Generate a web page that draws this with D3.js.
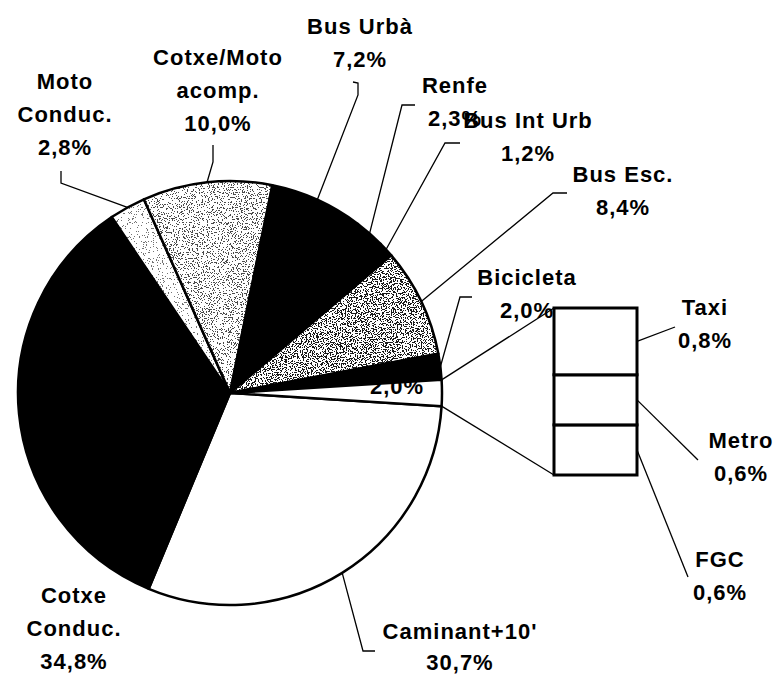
<!DOCTYPE html>
<html>
<head>
<meta charset="utf-8">
<script src="https://cdn.jsdelivr.net/npm/d3@7"></script>
<style>
  html, body { margin: 0; padding: 0; background: #fff; }
  svg { display: block; }
  text { font-family: "Liberation Sans", Arial, sans-serif; font-weight: bold; font-size: 22px; letter-spacing: 1px; fill: #000; }
</style>
</head>
<body>
<script>
// ---------- DATA ----------
const pieCategories = ["Caminant+10'", "Cotxe Conduc.", "Moto Conduc.", "Cotxe/Moto acomp.", "Bus Urbà", "Renfe", "Bus Int Urb", "Bus Esc.", "Bicicleta", "Altres"];
const pieValues = [30.7, 34.8, 2.8, 10.0, 7.2, 2.3, 1.2, 8.4, 2.0];   // "Altres" = sum of the bar
const barCategories = ["FGC", "Metro", "Taxi"];                        // bottom to top
const barValues = [0.6, 0.6, 0.8];

const pieLabelLines = [["Caminant+10'"], ["Cotxe", "Conduc."], ["Moto", "Conduc."], ["Cotxe/Moto", "acomp."],
                       ["Bus Urbà"], ["Renfe"], ["Bus Int Urb"], ["Bus Esc."], ["Bicicleta"], []];
const barLabelLines = [["FGC"], ["Metro"], ["Taxi"]];

// ---------- LAYOUT / STYLE ----------
const W = 779, H = 677;
const cx = 230, cy = 393, R = 212;
const barX = 554, barW = 83, barTop = 308, barBottom = 475;
const lineGap = 33;
const pieFills = ["#fff", "#000", "url(#stLight)", "url(#stMed)", "#000", "#000", "#000", "url(#stDark)", "#000", "#fff"];
// label anchor (center x, first baseline) and leader path points (from slice edge outward)
const pieLabelLayout = [
  {x: 460, y: 639, gap: 31, leader: [[363, 651], [375, 651]]},
  {x: 74,  y: 603, leader: null},
  {x: 65,  y: 89,  leader: [[61, 183], [61, 171]]},
  {x: 218, y: 65,  leader: [[213, 162], [213, 145]]},
  {x: 360, y: 34,  leader: [[358, 95], [358, 83], [353, 82]]},
  {x: 455, y: 93,  leader: [[402, 105], [415, 105]]},
  {x: 528, y: 128, leader: [[445, 143], [460, 143]]},
  {x: 623, y: 182, leader: [[553, 193], [567, 193]]},
  {x: 527, y: 285, leader: [[460, 297], [472, 297]]},
  {x: 397, y: 394, leader: null}
];
const barLabelLayout = [
  {x: 720, y: 567, leader: [[688, 577]]},
  {x: 741, y: 448, leader: [[698, 460]]},
  {x: 705, y: 315, leader: [[675, 327]]}
];

const fmt = v => d3.format(".1f")(v).replace(".", ",") + "%";

// ---------- SVG ----------
const svg = d3.select("body").append("svg").attr("width", W).attr("height", H);
svg.append("rect").attr("width", W).attr("height", H).attr("fill", "#fff");
const defs = svg.append("defs");

function addStipple(id, threshold, gray, seed, freq) {
  const f = defs.append("filter").attr("id", id + "F")
    .attr("x", 0).attr("y", 0).attr("width", 1).attr("height", 1)
    .attr("color-interpolation-filters", "sRGB");
  f.append("feTurbulence").attr("type", "fractalNoise").attr("baseFrequency", freq)
    .attr("numOctaves", 2).attr("seed", seed);
  f.append("feColorMatrix").attr("type", "matrix")
    .attr("values", `0 0 0 0 ${gray} 0 0 0 0 ${gray} 0 0 0 0 ${gray} 1 0 0 0 0`);
  const n = 50;
  f.append("feComponentTransfer").append("feFuncA").attr("type", "discrete")
    .attr("tableValues", d3.range(n).map(i => (i / n >= threshold ? 1 : 0)).join(" "));
  const p = defs.append("pattern").attr("id", id).attr("patternUnits", "userSpaceOnUse")
    .attr("width", W).attr("height", H);
  p.append("rect").attr("width", W).attr("height", H).attr("fill", "#fff");
  p.append("rect").attr("width", W).attr("height", H).attr("fill", "#000").attr("filter", `url(#${id}F)`);
}
addStipple("stLight", 0.66, 0.45, 3, 0.8);
addStipple("stMed", 0.60, 0.3, 7, 0.8);
addStipple("stDark", 0.54, 0.1, 11, 0.8);

// ---------- PIE ----------
const otherValue = d3.sum(barValues);
const allValues = pieValues.concat([otherValue]);
const total = d3.sum(allValues);
const start = Math.PI / 2 + (otherValue / total) * Math.PI;
const pieData = d3.pie().sort(null).startAngle(start).endAngle(start + 2 * Math.PI)(allValues);
const arc = d3.arc().innerRadius(0).outerRadius(R);
const g = svg.append("g").attr("transform", `translate(${cx},${cy})`);

g.selectAll("path.slice").data(pieData).join("path")
  .attr("class", "slice")
  .attr("d", arc)
  .attr("fill", (d, i) => pieFills[i])
  .attr("stroke", "#000").attr("stroke-width", 2.5).attr("stroke-linejoin", "round");

// label of the "other" slice, clipped to its slice
const otherSlice = pieData[pieData.length - 1];
defs.append("clipPath").attr("id", "otherClip").append("path")
  .attr("transform", `translate(${cx},${cy})`)
  .attr("d", d3.arc().innerRadius(0).outerRadius(R - 1)(otherSlice));
svg.append("text").attr("clip-path", "url(#otherClip)")
  .attr("x", pieLabelLayout[9].x).attr("y", pieLabelLayout[9].y)
  .attr("text-anchor", "middle").text(fmt(otherValue));

const onCircle = a => [cx + R * Math.sin(a), cy - R * Math.cos(a)];

// ---------- BAR ----------
const y = d3.scaleLinear().domain([0, otherValue]).range([barBottom, barTop]);
const cum = d3.cumsum(barValues);
const segs = barValues.map((v, i) => ({v, y0: cum[i] - v, y1: cum[i]}));

// connector lines pie -> bar
const conn = svg.append("g").attr("stroke", "#000").attr("stroke-width", 1.3).attr("fill", "none");
conn.append("path").attr("d", d3.line()([onCircle(otherSlice.startAngle), [barX, y(otherValue)]]));
conn.append("path").attr("d", d3.line()([onCircle(otherSlice.endAngle), [barX, y(0)]]));

svg.append("g").selectAll("rect").data(segs).join("rect")
  .attr("x", barX).attr("width", barW)
  .attr("y", d => y(d.y1)).attr("height", d => y(d.y0) - y(d.y1))
  .attr("fill", "#fff").attr("stroke", "#000").attr("stroke-width", 3);

// ---------- LEADERS & LABELS ----------
const lead = svg.append("g").attr("stroke", "#000").attr("stroke-width", 1.3).attr("fill", "none");
function drawLabel(lines, lay) {
  const gap = lay.gap || lineGap;
  const t = svg.append("text").attr("text-anchor", "middle");
  lines.forEach((s, k) => t.append("tspan").attr("x", lay.x).attr("y", lay.y + k * gap).text(s));
}
pieData.forEach((d, i) => {
  if (i === pieData.length - 1) return;
  const lay = pieLabelLayout[i];
  if (lay.leader) {
    const mid = (d.startAngle + d.endAngle) / 2;
    lead.append("path").attr("d", d3.line()([onCircle(mid)].concat(lay.leader)));
  }
  drawLabel(pieLabelLines[i].concat([fmt(d.value)]), lay);
});
segs.forEach((s, i) => {
  const lay = barLabelLayout[i];
  const p0 = [barX + barW, y((s.y0 + s.y1) / 2)];
  lead.append("path").attr("d", d3.line()([p0].concat(lay.leader)));
  drawLabel(barLabelLines[i].concat([fmt(s.v)]), lay);
});
</script>
</body>
</html>
